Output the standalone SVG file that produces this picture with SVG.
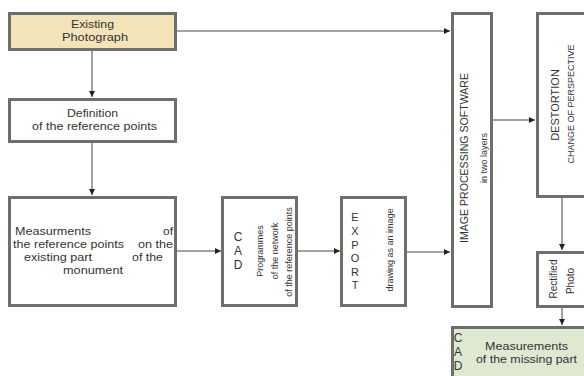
<svg xmlns="http://www.w3.org/2000/svg" width="584" height="376" viewBox="0 0 584 376">
<defs>
<style>
.box{fill:#fff;stroke:#6e6e6e;stroke-width:3}
.t{font-family:"Liberation Sans",Arial,sans-serif;font-size:11px;fill:#333}
.m{font-family:"Liberation Sans",Arial,sans-serif;font-size:11px;fill:#333}
.s{font-family:"Liberation Sans",Arial,sans-serif;font-size:9px;fill:#333}
.c{text-anchor:middle}
.ln{stroke:#444;stroke-width:1;fill:none}
</style>
<marker id="ah" viewBox="0 0 6 6" refX="6" refY="3" markerWidth="6" markerHeight="6" orient="auto" markerUnits="userSpaceOnUse">
<path d="M0,0 L6,3 L0,6 z" fill="#222"/>
</marker>
</defs>
<rect width="584" height="376" fill="#fff"/>
<g id="connectors">
<path class="ln" d="M176,31 H450" marker-end="url(#ah)"/>
<path class="ln" d="M92,50 V97" marker-end="url(#ah)"/>
<path class="ln" d="M92,142 V195" marker-end="url(#ah)"/>
<path class="ln" d="M176,251 H221" marker-end="url(#ah)"/>
<path class="ln" d="M298,251 H340" marker-end="url(#ah)"/>
<path class="ln" d="M407,252 H450" marker-end="url(#ah)"/>
<path class="ln" d="M493,120 H535" marker-end="url(#ah)"/>
<path class="ln" d="M562,197 V250" marker-end="url(#ah)"/>
<path class="ln" d="M562,308 V325" marker-end="url(#ah)"/>
</g>
<g id="existing-photograph">
<rect class="box" x="9.5" y="13.5" width="166" height="36" style="fill:#f3e3b8"/>
<text class="t" x="71" y="28" textLength="43" lengthAdjust="spacingAndGlyphs">Existing</text>
<text class="t" x="62" y="41" textLength="66" lengthAdjust="spacingAndGlyphs">Photograph</text>
</g>
<g id="definition">
<rect class="box" x="9.5" y="99.5" width="166" height="42"/>
<text class="t" x="67" y="117" textLength="51" lengthAdjust="spacingAndGlyphs">Definition</text>
<text class="t" x="32" y="130" textLength="125" lengthAdjust="spacingAndGlyphs">of the reference points</text>
</g>
<g id="measurements">
<rect class="box" x="9.5" y="197.5" width="166" height="108"/>
<text class="t" x="15" y="235" textLength="76" lengthAdjust="spacingAndGlyphs">Measurments</text>
<text class="t" x="163" y="235" textLength="10" lengthAdjust="spacingAndGlyphs">of</text>
<text class="t" x="13" y="248" textLength="111" lengthAdjust="spacingAndGlyphs">the reference points</text>
<text class="t" x="138" y="248" textLength="35" lengthAdjust="spacingAndGlyphs">on the</text>
<text class="t" x="24" y="261" textLength="68" lengthAdjust="spacingAndGlyphs">existing part</text>
<text class="t" x="132" y="261" textLength="31" lengthAdjust="spacingAndGlyphs">of the</text>
<text class="t" x="63" y="274" textLength="60" lengthAdjust="spacingAndGlyphs">monument</text>
</g>
<g id="cad">
<rect class="box" x="222.5" y="197.5" width="74" height="108"/>
<text class="t c" x="238" y="241" style="font-size:12px">C</text>
<text class="t c" x="238" y="255" style="font-size:12px">A</text>
<text class="t c" x="238" y="269" style="font-size:12px">D</text>
<text class="s c" transform="translate(263,251) rotate(-90)">Programmes</text>
<text class="s c" transform="translate(278,251) rotate(-90)">of the network</text>
<text class="s c" transform="translate(292,252) rotate(-90)">of the reference points</text>
</g>
<g id="export">
<rect class="box" x="341.5" y="197.5" width="64" height="108"/>
<text class="m c" x="355" y="221">E</text>
<text class="m c" x="355" y="235">X</text>
<text class="m c" x="355" y="249">P</text>
<text class="m c" x="355" y="262">O</text>
<text class="m c" x="355" y="276">R</text>
<text class="m c" x="355" y="289">T</text>
<text class="s c" transform="translate(393,250) rotate(-90)">drawing as an image</text>
</g>
<g id="image-processing">
<rect class="box" x="452.5" y="13.5" width="39" height="293"/>
<text class="m c" transform="translate(468,158) rotate(-90)" textLength="170" lengthAdjust="spacingAndGlyphs">IMAGE PROCESSING SOFTWARE</text>
<text class="s c" transform="translate(487,158) rotate(-90)">in two layers</text>
</g>
<g id="destortion">
<rect class="box" x="537.5" y="13.5" width="60" height="183"/>
<text class="m c" transform="translate(559,105) rotate(-90)">DESTORTION</text>
<text class="s c" transform="translate(574,104) rotate(-90)">CHANGE OF PERSPECTIVE</text>
</g>
<g id="rectified-photo">
<rect class="box" x="537.5" y="252.5" width="60" height="54"/>
<text class="m c" transform="translate(557,279) rotate(-90)" style="font-size:10px">Rectified</text>
<text class="m c" transform="translate(574,281) rotate(-90)" style="font-size:10px">Photo</text>
</g>
<g id="cad-missing">
<rect class="box" x="452.5" y="327.5" width="150" height="60" style="fill:#dfe9d2"/>
<text class="t c" x="458" y="342" style="font-size:12px">C</text>
<text class="t c" x="458" y="356" style="font-size:12px">A</text>
<text class="t c" x="458" y="370" style="font-size:12px">D</text>
<text class="t" x="485" y="350" textLength="83" lengthAdjust="spacingAndGlyphs">Measurements</text>
<text class="t" x="476" y="363" textLength="101" lengthAdjust="spacingAndGlyphs">of the missing part</text>
</g>
</svg>
